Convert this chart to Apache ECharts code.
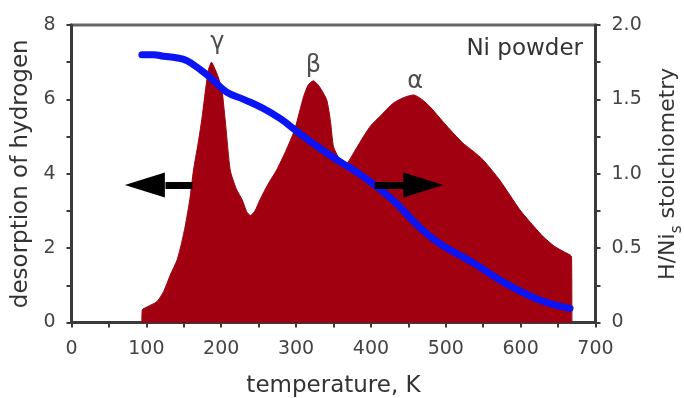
<!DOCTYPE html>
<html>
<head>
<meta charset="utf-8">
<script src="https://cdn.jsdelivr.net/npm/echarts@6/dist/echarts.min.js"></script>
<style>
html, body { margin: 0; padding: 0; background: #fff; }
#chart { width: 684px; height: 398px; }
</style>
</head>
<body>
<div id="chart"></div>
<script>
// desorption of hydrogen (left axis) vs temperature, K
const desorptionT = [94, 94.5, 101, 114, 123, 132, 141, 147, 152, 158, 163, 169, 174, 179, 183, 187, 191, 196, 201, 206, 212, 220, 228, 234, 239, 245, 252, 262, 274, 286, 298, 310, 316, 323, 331, 341, 346, 350, 358, 367, 378, 390, 400, 412, 430, 444, 457, 468, 479, 492, 506, 523, 537, 550, 572, 599, 617, 630, 645, 658, 668, 668.5];
const desorptionV = [0, 0.34, 0.42, 0.56, 0.83, 1.28, 1.68, 2.13, 2.6, 3.3, 4.1, 4.8, 5.45, 6.25, 6.8, 7.0, 6.85, 6.6, 6.25, 5.3, 4.1, 3.6, 3.3, 2.98, 2.88, 3.0, 3.31, 3.7, 4.1, 4.6, 5.18, 6.07, 6.38, 6.5, 6.35, 5.98, 5.4, 4.73, 4.4, 4.28, 4.6, 5.0, 5.3, 5.54, 5.9, 6.05, 6.12, 6.0, 5.8, 5.5, 5.18, 4.82, 4.6, 4.37, 3.83, 3.03, 2.6, 2.31, 2.05, 1.9, 1.77, 0];

// H/Ni_s stoichiometry (right axis)
const stoichT = [94, 110, 123, 140, 154, 172, 187, 207, 230, 256, 279, 305, 332, 359, 390, 430, 465, 492, 537, 581, 626, 666];
const stoichV = [1.80, 1.80, 1.79, 1.78, 1.76, 1.70, 1.64, 1.55, 1.50, 1.44, 1.37, 1.27, 1.17, 1.08, 0.98, 0.82, 0.64, 0.53, 0.40, 0.26, 0.15, 0.095];

// peak labels
const peakNames = ["γ", "β", "α"];
const peakT = [195, 323, 459];
const peakV = [7.52, 6.9, 6.47];

// arrows (left axis units)
const arrowY = 3.7;
const arrowShafts = [[125.5, 161.6], [405, 445]];
const arrowHeadT = [98, 470];
const arrowHeadRotate = [90, -90];

const font = "DejaVu Sans";
const ink = "#333";
const axisColor = "#3a3a3a";

const pairs = (xs, ys) => xs.map((x, i) => [x, ys[i]]);

const chart = echarts.init(document.getElementById("chart"), null, { renderer: "canvas" });

chart.setOption({
	animation: false,
	backgroundColor: "#fff",
	textStyle: { fontFamily: font, color: ink },
	grid: {
		left: 71.5,
		right: 88.5,
		top: 25,
		bottom: 75.5,
		outerBoundsMode: "none",
		containLabel: false,
		show: true,
		borderColor: "#666",
		borderWidth: 3
	},
	xAxis: {
		type: "value",
		min: 0,
		max: 700,
		interval: 100,
		name: "temperature, K",
		nameLocation: "middle",
		nameGap: 52,
		nameTextStyle: { fontSize: 23, color: ink, fontFamily: font },
		axisLine: { lineStyle: { color: axisColor, width: 3 } },
		axisTick: { length: 5, lineStyle: { color: axisColor, width: 2 } },
		minorTick: { show: true, splitNumber: 2, length: 5, lineStyle: { color: axisColor, width: 2 } },
		axisLabel: { fontSize: 19, color: "#444", margin: 17, fontFamily: font },
		splitLine: { show: false }
	},
	yAxis: [
		{
			type: "value",
			min: 0,
			max: 8,
			interval: 2,
			name: "desorption of hydrogen",
			nameLocation: "middle",
			nameRotate: 90,
			nameGap: 33,
			nameTextStyle: { fontSize: 23, color: ink, fontFamily: font },
			axisLine: { show: true, lineStyle: { color: axisColor, width: 3 } },
			axisTick: { show: true, length: 5, lineStyle: { color: axisColor, width: 2 } },
			minorTick: { show: true, splitNumber: 2, length: 5, lineStyle: { color: axisColor, width: 2 } },
			axisLabel: { fontSize: 19, color: "#444", margin: 16, fontFamily: font },
			splitLine: { show: false }
		},
		{
			type: "value",
			min: 0,
			max: 2,
			interval: 0.5,
			position: "right",
			name: "H/Ni{sub|s} stoichiometry",
			nameLocation: "middle",
			nameRotate: 90,
			nameGap: 57,
			nameTextStyle: {
				fontSize: 22,
				color: ink,
				fontFamily: font,
				rich: { sub: { fontSize: 15, color: ink, fontFamily: font, verticalAlign: "bottom", lineHeight: 32 } }
			},
			axisLine: { show: true, lineStyle: { color: axisColor, width: 3 } },
			axisTick: { show: true, length: 5, lineStyle: { color: axisColor, width: 2 } },
			minorTick: { show: true, splitNumber: 2, length: 5, lineStyle: { color: axisColor, width: 2 } },
			axisLabel: {
				fontSize: 19,
				color: "#444",
				margin: 16,
				fontFamily: font,
				formatter: v => (v === 0 ? "0" : v.toFixed(1))
			},
			splitLine: { show: false }
		}
	],
	graphic: [
		{
			type: "text",
			right: 101,
			top: 38,
			style: { text: "Ni powder", fontSize: 23, fontFamily: font, fill: ink }
		}
	],
	series: [
		{
			name: "desorption",
			type: "line",
			data: pairs(desorptionT, desorptionV),
			smooth: 0.2,
			showSymbol: false,
			symbol: "none",
			lineStyle: { width: 1, color: "#a00010" },
			areaStyle: { color: "#a00010", opacity: 1 },
			z: 2
		},
		{
			name: "stoichiometry",
			type: "line",
			yAxisIndex: 1,
			data: pairs(stoichT, stoichV),
			smooth: 0.4,
			showSymbol: false,
			symbol: "none",
			lineStyle: { width: 7, color: "#0a14f5", cap: "round" },
			z: 3
		},
		{
			name: "peaks",
			type: "scatter",
			symbolSize: 1,
			itemStyle: { color: "rgba(0,0,0,0)" },
			data: peakNames.map((n, i) => ({ name: n, value: [peakT[i], peakV[i]] })),
			label: { show: true, position: "inside", formatter: "{b}", fontSize: 24, color: "#222", fontFamily: font },
			silent: true,
			z: 4
		},
		{
			name: "arrows",
			type: "scatter",
			symbol: "triangle",
			symbolSize: [25, 40],
			itemStyle: { color: "#000", opacity: 1 },
			data: arrowHeadT.map((t, i) => ({ value: [t, arrowY], symbolRotate: arrowHeadRotate[i] })),
			markLine: {
				silent: true,
				symbol: ["none", "none"],
				label: { show: false },
				lineStyle: { color: "#000", width: 7, type: "solid", opacity: 1 },
				data: arrowShafts.map(([a, b]) => [{ coord: [a, arrowY] }, { coord: [b, arrowY] }])
			},
			silent: true,
			z: 5
		}
	]
});
</script>
</body>
</html>
